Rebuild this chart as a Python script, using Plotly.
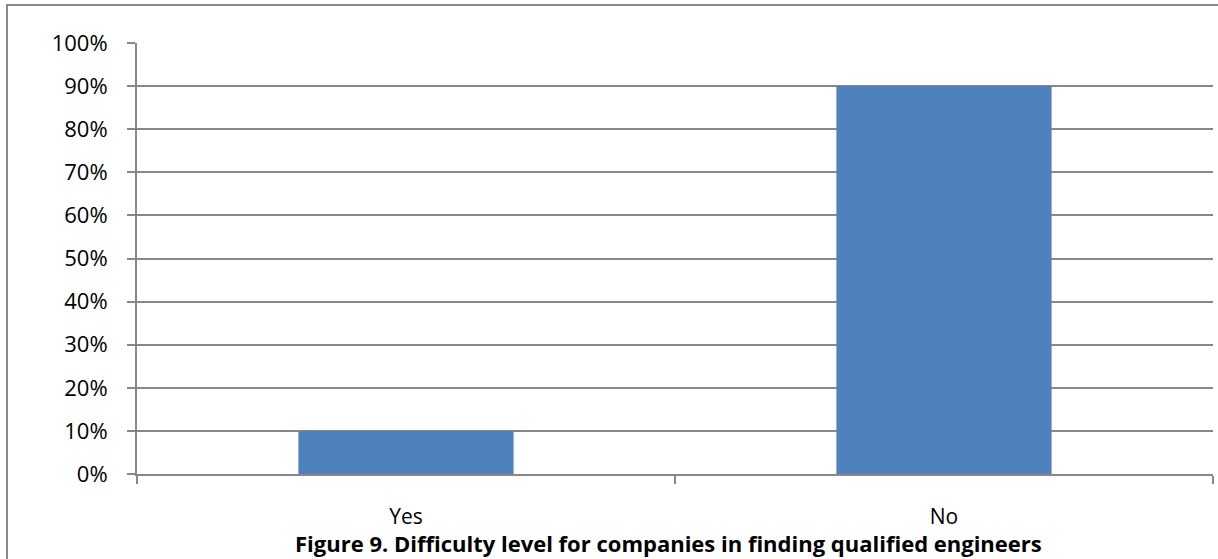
import plotly.graph_objects as go

categories = ["Yes", "No"]
values = [0.10, 0.90]
title_text = "Figure 9. Difficulty level for companies in finding qualified engineers"

W, H = 1218, 559
L, R, T, B = 137, 5, 43, 85
pw = W - L - R
ph = H - T - B
FONT = "'Open Sans', Lato, sans-serif"

fig = go.Figure(go.Bar(x=categories, y=values, marker=dict(color="#4F81BD", line=dict(width=0)),
                       width=0.4))

fig.update_layout(
    width=W, height=H,
    margin=dict(l=L, r=R, t=T, b=B),
    paper_bgcolor="white", plot_bgcolor="white",
    font=dict(family=FONT, size=21, color="#000000"),
    showlegend=False,
    bargap=0.6,
)
fig.update_xaxes(
    type="category", tickson="boundaries", ticks="outside", ticklen=8, tickcolor="#888888",
    tickwidth=2, showline=True, linecolor="#888888", linewidth=2, showgrid=False,
    ticklabelstandoff=23, tickfont=dict(size=21),
)
fig.update_yaxes(
    range=[0, 1], dtick=0.1, tickformat=".0%", ticks="outside", ticklen=8, tickcolor="#888888",
    tickwidth=2, showline=True, linecolor="#888888", linewidth=2, showgrid=True,
    gridcolor="#888888", gridwidth=2, zeroline=False, tickfont=dict(size=22),
    ticklabelstandoff=15,
)
fig.add_annotation(text="<b>" + title_text + "</b>", xref="paper", yref="paper",
                   x=(668 - L) / pw, y=0, yshift=-(543 - 474), showarrow=False,
                   xanchor="center", yanchor="middle",
                   font=dict(size=22, family=FONT))
# outer frame
fig.add_shape(type="rect", xref="paper", yref="paper",
              x0=(7 - L) / pw, x1=(1222 - L) / pw,
              y0=(474 - 565) / ph, y1=(474 - 5) / ph,
              line=dict(color="#898989", width=2), layer="below")

fig.write_html("out.html")
